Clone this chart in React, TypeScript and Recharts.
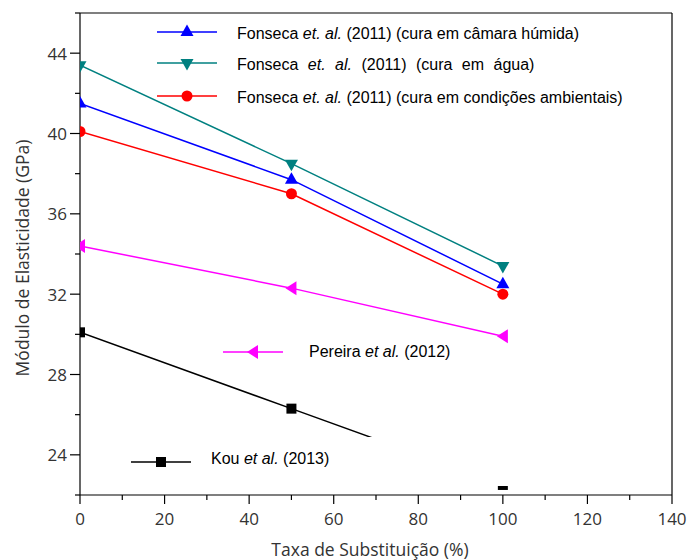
import { Line, LineChart, ReferenceLine, XAxis, YAxis } from "recharts";

// substitution rate (%) and modulus of elasticity (GPa)
const substitution = [0, 50, 100];
const fonsecaCamara = [41.5, 37.7, 32.5];
const fonsecaAgua = [43.4, 38.5, 33.4];
const fonsecaAmbiente = [40.1, 37.0, 32.0];
const pereira = [34.4, 32.3, 29.9];
const kou = [30.1, 26.3, 22.5];

const xTicks = [0, 10, 20, 30, 40, 50, 60, 70, 80, 90, 100, 110, 120, 130, 140];
const yTicks = [22, 24, 26, 28, 30, 32, 34, 36, 38, 40, 42, 44, 46];

type Shape = "up" | "down" | "circle" | "left" | "square";

const toPoints = (values: number[]) =>
  substitution.map((x, i) => ({ x, y: values[i] }));

const series = [
  { id: "camara", values: fonsecaCamara, color: "#0000ff", shape: "up" as Shape },
  { id: "agua", values: fonsecaAgua, color: "#008080", shape: "down" as Shape },
  { id: "ambiente", values: fonsecaAmbiente, color: "#ff0000", shape: "circle" as Shape },
  { id: "pereira", values: pereira, color: "#ff00ff", shape: "left" as Shape },
  { id: "kou", values: kou, color: "#000000", shape: "square" as Shape },
];

const TICK_FONT = "'Open Sans', 'Noto Sans', sans-serif";
const LEGEND_FONT = "'Liberation Sans', Arial, sans-serif";

function Marker({ cx, cy, shape, color }: { cx: number; cy: number; shape: Shape; color: string }) {
  switch (shape) {
    case "up":
      return <polygon points={`${cx},${cy - 7.5} ${cx - 6.5},${cy + 4} ${cx + 6.5},${cy + 4}`} fill={color} />;
    case "down":
      return <polygon points={`${cx},${cy + 7.5} ${cx - 6.5},${cy - 4} ${cx + 6.5},${cy - 4}`} fill={color} />;
    case "circle":
      return <circle cx={cx} cy={cy} r={5.5} fill={color} />;
    case "left":
      return <polygon points={`${cx - 6},${cy} ${cx + 5},${cy - 7} ${cx + 5},${cy + 7}`} fill={color} />;
    default:
      return <rect x={cx - 5} y={cy - 5} width={10} height={10} fill={color} />;
  }
}

function XTick(props: any) {
  const { x, y, payload } = props;
  const major = payload.value % 20 === 0;
  return (
    <g>
      <line x1={x} y1={y} x2={x} y2={y + (major ? 9 : 5)} stroke="#000" strokeWidth={1.2} />
      {major && (
        <text x={x} y={y + 30} textAnchor="middle" fontSize={17} fill="#333" fontFamily={TICK_FONT}>
          {payload.value}
        </text>
      )}
    </g>
  );
}

function YTick(props: any) {
  const { x, y, payload } = props;
  const major = (payload.value - 24) % 4 === 0;
  return (
    <g>
      <line x1={x} y1={y} x2={x - (major ? 10 : 5)} y2={y} stroke="#000" strokeWidth={1.2} />
      {major && (
        <text x={x - 13} y={y + 6.5} textAnchor="end" fontSize={17} fill="#333" fontFamily={TICK_FONT}>
          {payload.value}
        </text>
      )}
    </g>
  );
}

function Swatch({ shape, color, left, top }: { shape: Shape; color: string; left: number; top: number }) {
  return (
    <svg width={60} height={16} style={{ position: "absolute", left, top: top - 8 }}>
      <line x1={0} y1={8} x2={60} y2={8} stroke={color} strokeWidth={1.5} />
      <Marker cx={30} cy={8} shape={shape} color={color} />
    </svg>
  );
}

const legendText = {
  position: "absolute" as const,
  fontFamily: LEGEND_FONT,
  fontSize: 16,
  lineHeight: "16px",
  color: "#000",
  whiteSpace: "pre" as const,
};

const axisTitle = {
  position: "absolute" as const,
  fontFamily: TICK_FONT,
  fontSize: 17.5,
  color: "#333",
  whiteSpace: "nowrap" as const,
};

export default function App() {
  return (
    <div style={{ position: "absolute", left: 0, top: 0, width: 691, height: 560, background: "#fff" }}>
      <LineChart width={691} height={560} margin={{ top: 13, right: 19, bottom: 0, left: 0 }}>
        <XAxis
          dataKey="x"
          type="number"
          domain={[0, 140]}
          ticks={xTicks}
          interval={0}
          allowDataOverflow
          height={65}
          tickSize={0}
          tickMargin={0}
          tickLine={false}
          tick={<XTick />}
          axisLine={{ stroke: "#000", strokeWidth: 1.2 }}
        />
        <YAxis
          dataKey="y"
          type="number"
          domain={[22, 46]}
          ticks={yTicks}
          interval={0}
          allowDataOverflow
          width={80}
          tickSize={0}
          tickMargin={0}
          tickLine={false}
          tick={<YTick />}
          axisLine={{ stroke: "#000", strokeWidth: 1.2 }}
        />
        <ReferenceLine y={46} stroke="#000" strokeWidth={1.2} />
        <ReferenceLine x={140} stroke="#000" strokeWidth={1.2} />
        {series.map((s) => (
          <Line
            key={s.id}
            data={toPoints(s.values)}
            dataKey="y"
            stroke={s.color}
            strokeWidth={1.5}
            isAnimationActive={false}
            activeDot={false}
            dot={(p: any) => (
              <Marker key={`${s.id}-${p.index}`} cx={p.cx} cy={p.cy} shape={s.shape} color={s.color} />
            )}
          />
        ))}
      </LineChart>

      {/* Fonseca legend */}
      <Swatch shape="up" color="#0000ff" left={157} top={32} />
      <Swatch shape="down" color="#008080" left={157} top={63} />
      <Swatch shape="circle" color="#ff0000" left={157} top={96} />
      <div style={{ ...legendText, left: 237, top: 26 }}>
        Fonseca <i>et. al.</i> (2011) (cura em câmara húmida)
      </div>
      <div style={{ ...legendText, left: 237, top: 57, wordSpacing: 5 }}>
        Fonseca <i>et.</i> <i>al.</i> (2011) (cura em água)
      </div>
      <div style={{ ...legendText, left: 237, top: 90 }}>
        Fonseca <i>et. al.</i> (2011) (cura em condições ambientais)
      </div>

      {/* Pereira legend */}
      <Swatch shape="left" color="#ff00ff" left={223} top={352} />
      <div style={{ ...legendText, left: 309, top: 344 }}>
        Pereira <i>et al.</i> (2012)
      </div>

      {/* Kou legend, on an opaque box */}
      <div style={{ position: "absolute", left: 120, top: 437, width: 400, height: 49, background: "#fff" }} />
      <Swatch shape="square" color="#000000" left={131} top={462} />
      <div style={{ ...legendText, left: 211, top: 451 }}>
        Kou <i>et al.</i> (2013)
      </div>

      {/* axis titles */}
      <div style={{ ...axisTitle, left: 22, top: 258, transform: "translate(-50%, -50%) rotate(-90deg)" }}>
        Módulo de Elasticidade (GPa)
      </div>
      <div style={{ ...axisTitle, left: 370, top: 549, transform: "translate(-50%, -50%)" }}>
        Taxa de Substituição (%)
      </div>
    </div>
  );
}
